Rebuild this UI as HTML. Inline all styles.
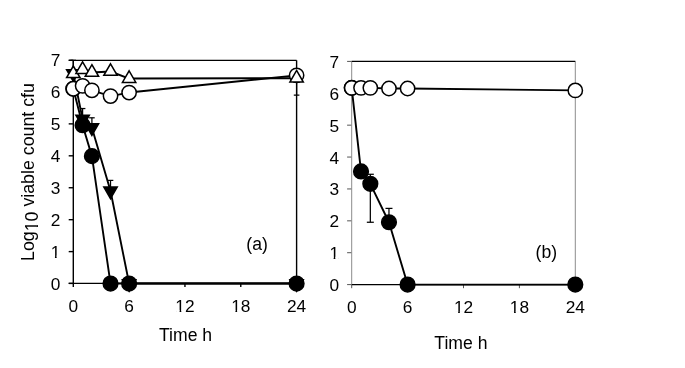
<!DOCTYPE html>
<html><head><meta charset="utf-8"><style>
html,body{margin:0;padding:0;background:#fff;}
body{width:685px;height:368px;overflow:hidden;font-family:"Liberation Sans",sans-serif;}
svg{display:block;}
svg{will-change:transform;}
</style></head><body>
<svg width="685" height="368" viewBox="0 0 685 368">
<rect width="685" height="368" fill="#fff"/>
<g class="t" font-family="Liberation Sans, sans-serif" font-size="17.6" fill="#000">
<text x="60.3" y="289.75" text-anchor="end" font-size="17.3">0</text>
<text x="60.3" y="257.85" text-anchor="end" font-size="17.3">1</text>
<rect x="51.48" y="255.56" width="3.46" height="3.09" fill="#fff"/><rect x="56.64" y="255.56" width="3.41" height="3.09" fill="#fff"/>
<text x="60.3" y="225.95" text-anchor="end" font-size="17.3">2</text>
<text x="60.3" y="194.05" text-anchor="end" font-size="17.3">3</text>
<text x="60.3" y="162.15" text-anchor="end" font-size="17.3">4</text>
<text x="60.3" y="130.25" text-anchor="end" font-size="17.3">5</text>
<text x="60.3" y="98.35" text-anchor="end" font-size="17.3">6</text>
<text x="60.3" y="66.45" text-anchor="end" font-size="17.3">7</text>
<text x="73.30" y="312.2" text-anchor="middle" font-size="17.3">0</text>
<text x="129.12" y="312.2" text-anchor="middle" font-size="17.3">6</text>
<text x="184.95" y="312.2" text-anchor="middle" font-size="17.3">12</text>
<rect x="176.13" y="309.91" width="3.46" height="3.09" fill="#fff"/><rect x="181.29" y="309.91" width="3.41" height="3.09" fill="#fff"/>
<text x="240.77" y="312.2" text-anchor="middle" font-size="17.3">18</text>
<rect x="231.96" y="309.91" width="3.46" height="3.09" fill="#fff"/><rect x="237.12" y="309.91" width="3.41" height="3.09" fill="#fff"/>
<text x="296.60" y="312.2" text-anchor="middle" font-size="17.3">24</text>
<text x="159" y="340.9">Time h</text>
<text x="246.3" y="250.1">(a)</text>
<text x="339.0" y="291.05" text-anchor="end" font-size="17.3">0</text>
<text x="339.0" y="259.16" text-anchor="end" font-size="17.3">1</text>
<rect x="330.18" y="256.87" width="3.46" height="3.09" fill="#fff"/><rect x="335.34" y="256.87" width="3.41" height="3.09" fill="#fff"/>
<text x="339.0" y="227.28" text-anchor="end" font-size="17.3">2</text>
<text x="339.0" y="195.39" text-anchor="end" font-size="17.3">3</text>
<text x="339.0" y="163.51" text-anchor="end" font-size="17.3">4</text>
<text x="339.0" y="131.62" text-anchor="end" font-size="17.3">5</text>
<text x="339.0" y="99.74" text-anchor="end" font-size="17.3">6</text>
<text x="339.0" y="67.85" text-anchor="end" font-size="17.3">7</text>
<text x="351.70" y="313.4" text-anchor="middle" font-size="17.3">0</text>
<text x="407.60" y="313.4" text-anchor="middle" font-size="17.3">6</text>
<text x="463.50" y="313.4" text-anchor="middle" font-size="17.3">12</text>
<rect x="454.68" y="311.11" width="3.46" height="3.09" fill="#fff"/><rect x="459.84" y="311.11" width="3.41" height="3.09" fill="#fff"/>
<text x="519.40" y="313.4" text-anchor="middle" font-size="17.3">18</text>
<rect x="510.58" y="311.11" width="3.46" height="3.09" fill="#fff"/><rect x="515.74" y="311.11" width="3.41" height="3.09" fill="#fff"/>
<text x="575.30" y="313.4" text-anchor="middle" font-size="17.3">24</text>
<text x="434.3" y="349">Time h</text>
<text x="535.6" y="258.3">(b)</text>
<g transform="translate(34.0,261.0) rotate(-90)"><text font-size="17.8">Log<tspan dy="4.4">10</tspan><tspan dy="-4.4"> viable count cfu</tspan></text><rect x="30.52" y="2.07" width="3.56" height="3.13" fill="#fff"/><rect x="35.83" y="2.07" width="3.51" height="3.13" fill="#fff"/></g>
</g>
<line x1="68.70" y1="251.61" x2="73.30" y2="251.61" stroke="#000" stroke-width="1.4"/>
<line x1="68.70" y1="219.68" x2="73.30" y2="219.68" stroke="#000" stroke-width="1.4"/>
<line x1="68.70" y1="187.74" x2="73.30" y2="187.74" stroke="#000" stroke-width="1.4"/>
<line x1="68.70" y1="155.81" x2="73.30" y2="155.81" stroke="#000" stroke-width="1.4"/>
<line x1="68.70" y1="123.87" x2="73.30" y2="123.87" stroke="#000" stroke-width="1.4"/>
<line x1="68.70" y1="91.94" x2="73.30" y2="91.94" stroke="#000" stroke-width="1.4"/>
<line x1="68.70" y1="60.30" x2="73.30" y2="60.30" stroke="#000" stroke-width="1.4"/>
<line x1="68.70" y1="283.40" x2="73.30" y2="283.40" stroke="#000" stroke-width="1.4"/>
<line x1="73.30" y1="283.40" x2="73.30" y2="287.00" stroke="#000" stroke-width="1.4"/>
<line x1="129.12" y1="283.40" x2="129.12" y2="287.00" stroke="#000" stroke-width="1.4"/>
<line x1="184.95" y1="283.40" x2="184.95" y2="287.00" stroke="#000" stroke-width="1.4"/>
<line x1="240.77" y1="283.40" x2="240.77" y2="287.00" stroke="#000" stroke-width="1.4"/>
<line x1="296.60" y1="283.40" x2="296.60" y2="287.00" stroke="#000" stroke-width="1.4"/>
<line x1="73.30" y1="60.30" x2="73.30" y2="283.40" stroke="#000" stroke-width="1.4"/>
<line x1="296.60" y1="60.30" x2="296.60" y2="283.40" stroke="#000" stroke-width="1.4"/>
<line x1="68.70" y1="60.30" x2="296.60" y2="60.30" stroke="#000" stroke-width="1.3"/>
<line x1="68.70" y1="283.40" x2="296.60" y2="283.40" stroke="#000" stroke-width="1.3"/>
<polyline points="73.30,73.73 82.60,119.08 91.91,127.70 110.52,190.94 129.12,283.55 296.60,283.55" fill="none" stroke="#000" stroke-width="1.9" stroke-linejoin="round"/>
<polyline points="73.30,88.74 82.60,125.15 91.91,156.13 110.52,283.55 129.12,283.55 296.60,283.55" fill="none" stroke="#000" stroke-width="1.9" stroke-linejoin="round"/>
<polyline points="73.30,88.74 82.60,85.87 91.91,90.34 110.52,96.09 129.12,92.57 296.60,75.33" fill="none" stroke="#000" stroke-width="1.9" stroke-linejoin="round"/>
<polyline points="73.30,73.73 82.60,69.58 91.91,72.45 110.52,71.50 129.12,78.52 296.60,78.20" fill="none" stroke="#000" stroke-width="1.9" stroke-linejoin="round"/>
<line x1="82.60" y1="119.08" x2="82.60" y2="108.54" stroke="#000" stroke-width="1.25"/>
<line x1="79.80" y1="108.54" x2="85.40" y2="108.54" stroke="#000" stroke-width="1.25"/>
<line x1="91.91" y1="127.70" x2="91.91" y2="117.80" stroke="#000" stroke-width="1.25"/>
<line x1="89.11" y1="117.80" x2="94.71" y2="117.80" stroke="#000" stroke-width="1.25"/>
<line x1="110.52" y1="190.94" x2="110.52" y2="180.40" stroke="#000" stroke-width="1.25"/>
<line x1="107.72" y1="180.40" x2="113.32" y2="180.40" stroke="#000" stroke-width="1.25"/>
<path d="M73.30,81.47 L80.00,69.86 L66.60,69.86Z" fill="#000" stroke="#000" stroke-width="1.5"/>
<path d="M82.60,126.82 L89.30,115.21 L75.90,115.21Z" fill="#000" stroke="#000" stroke-width="1.5"/>
<path d="M91.91,135.44 L98.61,123.84 L85.21,123.84Z" fill="#000" stroke="#000" stroke-width="1.5"/>
<path d="M110.52,198.67 L117.22,187.07 L103.82,187.07Z" fill="#000" stroke="#000" stroke-width="1.5"/>
<path d="M129.12,291.29 L135.82,279.68 L122.42,279.68Z" fill="#000" stroke="#000" stroke-width="1.5"/>
<path d="M296.60,291.29 L303.30,279.68 L289.90,279.68Z" fill="#000" stroke="#000" stroke-width="1.5"/>
<circle cx="73.30" cy="88.74" r="7.35" fill="#000" stroke="#000" stroke-width="1.5"/>
<circle cx="82.60" cy="125.15" r="7.35" fill="#000" stroke="#000" stroke-width="1.5"/>
<circle cx="91.91" cy="156.13" r="7.35" fill="#000" stroke="#000" stroke-width="1.5"/>
<circle cx="110.52" cy="283.55" r="7.35" fill="#000" stroke="#000" stroke-width="1.5"/>
<circle cx="129.12" cy="283.55" r="7.35" fill="#000" stroke="#000" stroke-width="1.5"/>
<circle cx="296.60" cy="283.55" r="7.35" fill="#000" stroke="#000" stroke-width="1.5"/>
<circle cx="73.30" cy="88.74" r="7.15" fill="#fff" stroke="#000" stroke-width="1.5"/>
<circle cx="82.60" cy="85.87" r="7.15" fill="#fff" stroke="#000" stroke-width="1.5"/>
<circle cx="91.91" cy="90.34" r="7.15" fill="#fff" stroke="#000" stroke-width="1.5"/>
<circle cx="110.52" cy="96.09" r="7.15" fill="#fff" stroke="#000" stroke-width="1.5"/>
<circle cx="129.12" cy="92.57" r="7.15" fill="#fff" stroke="#000" stroke-width="1.5"/>
<circle cx="296.60" cy="75.33" r="7.15" fill="#fff" stroke="#000" stroke-width="1.5"/>
<line x1="73.30" y1="73.73" x2="73.30" y2="60.32" stroke="#000" stroke-width="1.25"/>
<line x1="70.50" y1="60.32" x2="76.10" y2="60.32" stroke="#000" stroke-width="1.25"/>
<line x1="296.60" y1="78.20" x2="296.60" y2="95.13" stroke="#000" stroke-width="1.25"/>
<line x1="293.80" y1="95.13" x2="299.40" y2="95.13" stroke="#000" stroke-width="1.25"/>
<path d="M73.30,66.00 L80.00,77.60 L66.60,77.60Z" fill="#fff" stroke="#000" stroke-width="1.5"/>
<path d="M82.60,61.84 L89.30,73.45 L75.90,73.45Z" fill="#fff" stroke="#000" stroke-width="1.5"/>
<path d="M91.91,64.72 L98.61,76.32 L85.21,76.32Z" fill="#fff" stroke="#000" stroke-width="1.5"/>
<path d="M110.52,63.76 L117.22,75.36 L103.82,75.36Z" fill="#fff" stroke="#000" stroke-width="1.5"/>
<path d="M129.12,70.79 L135.82,82.39 L122.42,82.39Z" fill="#fff" stroke="#000" stroke-width="1.5"/>
<path d="M296.60,70.47 L303.30,82.07 L289.90,82.07Z" fill="#fff" stroke="#000" stroke-width="1.5"/>
<line x1="347.10" y1="252.71" x2="351.70" y2="252.71" stroke="#555" stroke-width="1.0"/>
<line x1="347.10" y1="220.83" x2="351.70" y2="220.83" stroke="#555" stroke-width="1.0"/>
<line x1="347.10" y1="188.94" x2="351.70" y2="188.94" stroke="#555" stroke-width="1.0"/>
<line x1="347.10" y1="157.06" x2="351.70" y2="157.06" stroke="#555" stroke-width="1.0"/>
<line x1="347.10" y1="125.17" x2="351.70" y2="125.17" stroke="#555" stroke-width="1.0"/>
<line x1="347.10" y1="93.29" x2="351.70" y2="93.29" stroke="#555" stroke-width="1.0"/>
<line x1="347.10" y1="61.40" x2="351.70" y2="61.40" stroke="#555" stroke-width="1.0"/>
<line x1="347.10" y1="284.60" x2="351.70" y2="284.60" stroke="#555" stroke-width="1.0"/>
<line x1="351.70" y1="284.60" x2="351.70" y2="288.20" stroke="#555" stroke-width="1.0"/>
<line x1="407.60" y1="284.60" x2="407.60" y2="288.20" stroke="#555" stroke-width="1.0"/>
<line x1="463.50" y1="284.60" x2="463.50" y2="288.20" stroke="#555" stroke-width="1.0"/>
<line x1="519.40" y1="284.60" x2="519.40" y2="288.20" stroke="#555" stroke-width="1.0"/>
<line x1="575.30" y1="284.60" x2="575.30" y2="288.20" stroke="#555" stroke-width="1.0"/>
<line x1="351.70" y1="61.40" x2="351.70" y2="284.60" stroke="#8c8c8c" stroke-width="1.0"/>
<line x1="575.30" y1="61.40" x2="575.30" y2="284.60" stroke="#8c8c8c" stroke-width="1.0"/>
<line x1="351.70" y1="61.40" x2="575.30" y2="61.40" stroke="#000" stroke-width="1.4"/>
<line x1="351.70" y1="284.60" x2="575.30" y2="284.60" stroke="#000" stroke-width="1.4"/>
<polyline points="351.70,87.87 361.02,171.41 370.33,183.84 388.97,222.26 407.60,284.60 575.30,284.60" fill="none" stroke="#000" stroke-width="1.9" stroke-linejoin="round"/>
<polyline points="351.70,87.87 361.02,87.87 370.33,87.87 388.97,88.50 407.60,88.50 575.30,90.42" fill="none" stroke="#000" stroke-width="1.9" stroke-linejoin="round"/>
<line x1="370.33" y1="183.84" x2="370.33" y2="222.26" stroke="#000" stroke-width="1.25"/>
<line x1="366.83" y1="222.26" x2="373.83" y2="222.26" stroke="#000" stroke-width="1.25"/>
<line x1="370.33" y1="183.84" x2="370.33" y2="174.28" stroke="#000" stroke-width="1.25"/>
<line x1="366.83" y1="174.28" x2="373.83" y2="174.28" stroke="#000" stroke-width="1.25"/>
<line x1="388.97" y1="222.26" x2="388.97" y2="208.39" stroke="#000" stroke-width="1.25"/>
<line x1="385.47" y1="208.39" x2="392.47" y2="208.39" stroke="#000" stroke-width="1.25"/>
<circle cx="351.70" cy="87.87" r="7.35" fill="#000" stroke="#000" stroke-width="1.5"/>
<circle cx="361.02" cy="171.41" r="7.35" fill="#000" stroke="#000" stroke-width="1.5"/>
<circle cx="370.33" cy="183.84" r="7.35" fill="#000" stroke="#000" stroke-width="1.5"/>
<circle cx="388.97" cy="222.26" r="7.35" fill="#000" stroke="#000" stroke-width="1.5"/>
<circle cx="407.60" cy="284.60" r="7.35" fill="#000" stroke="#000" stroke-width="1.5"/>
<circle cx="575.30" cy="284.60" r="7.35" fill="#000" stroke="#000" stroke-width="1.5"/>
<circle cx="351.70" cy="87.87" r="7.15" fill="#fff" stroke="#000" stroke-width="1.5"/>
<circle cx="361.02" cy="87.87" r="7.15" fill="#fff" stroke="#000" stroke-width="1.5"/>
<circle cx="370.33" cy="87.87" r="7.15" fill="#fff" stroke="#000" stroke-width="1.5"/>
<circle cx="388.97" cy="88.50" r="7.15" fill="#fff" stroke="#000" stroke-width="1.5"/>
<circle cx="407.60" cy="88.50" r="7.15" fill="#fff" stroke="#000" stroke-width="1.5"/>
<circle cx="575.30" cy="90.42" r="7.15" fill="#fff" stroke="#000" stroke-width="1.5"/>
</svg>
</body></html>
